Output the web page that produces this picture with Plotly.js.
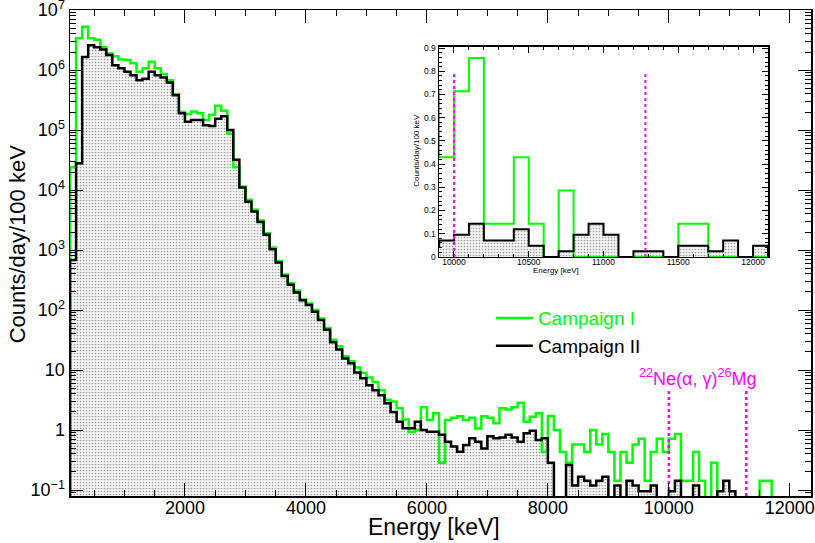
<!DOCTYPE html>
<html><head><meta charset="utf-8">
<script src="https://cdn.plot.ly/plotly-3.0.1.min.js"></script>
<style>html,body{margin:0;padding:0;background:#fff}</style>
</head><body><div id="chart" style="width:815px;height:543px"></div>
<script>
// Bin lower edges (keV), 100 keV bins
const binLow = [
  100,200,300,400,500,600,700,800,900,
  1000,1100,1200,1300,1400,1500,1600,1700,1800,1900,
  2000,2100,2200,2300,2400,2500,2600,2700,2800,2900,
  3000,3100,3200,3300,3400,3500,3600,3700,3800,3900,
  4000,4100,4200,4300,4400,4500,4600,4700,4800,4900,
  5000,5100,5200,5300,5400,5500,5600,5700,5800,5900,
  6000,6100,6200,6300,6400,6500,6600,6700,6800,6900,
  7000,7100,7200,7300,7400,7500,7600,7700,7800,7900,
  8000,8100,8200,8300,8400,8500,8600,8700,8800,8900,
  9000,9100,9200,9300,9400,9500,9600,9700,9800,9900,
  10000,10100,10200,10300,10400,10500,10600,10700,10800,10900,
  11000,11100,11200,11300,11400,11500,11600,11700,11800,11900,
  12000,12100,12200,12300
];
const binWidth = 100;

// Campaign I (counts/day/100 keV)
const campaignI = [
  2.4e4,3.4e6,5.3e6,3.4e6,3.2e6,2.4e6,1.9e6,1.7e6,1.5e6,
  1.47e6,1.3e6,9.4e5,1.07e6,1.38e6,1.07e6,8.6e5,6.8e5,4.0e5,2.0e5,
  1.85e5,2.05e5,1.9e5,1.47e5,1.8e5,2.55e5,2.1e5,8.7e4,2.4e4,1.15e4,
  6900,4700,3100,1900,1100,660,390,280,210,150,
  128,100,72,50,32,25,17,14,11,9.0,
  7.5,6.3,4.6,3.2,3.0,2.3,1.5,0.93,1.0,2.4,
  1.47,1.9,0.286,1.47,1.6,1.7,1.47,1.6,1.06,1.7,
  1.6,1.3,2.3,2.2,2.4,2.86,1.38,1.67,1.9,0.43,
  1.71,1.0,0.429,0.286,0.571,0.571,0.429,1.0,0.571,0.857,
  0.429,0.143,0.429,0.286,0.571,0.714,0.143,0.429,0.714,0.429,
  0.714,0.857,0.143,0.143,0.429,0.143,0,0.286,0,0,
  0,0,0,0,0,0.143,0.143,0,0,0,
  0,0,0,0
];

// Campaign II (counts/day/100 keV)
const campaignII = [
  680,2.8e4,1.66e6,2.6e6,2.4e6,2.2e6,1.78e6,1.2e6,1.07e6,
  9.4e5,8.2e5,6.8e5,7.2e5,9.4e5,8.2e5,7.5e5,6.2e5,3.8e5,1.9e5,
  1.38e5,1.47e5,1.47e5,1.2e5,1.17e5,1.55e5,1.7e5,1.0e5,3.2e4,1.1e4,
  6400,4400,2950,1800,1030,620,370,265,196,145,
  121,94,68,47,29,22,15.6,13,9.1,7.3,
  5.6,4.6,3.8,2.8,2.0,1.38,1.07,1.07,1.38,1.0,
  0.94,0.94,0.83,0.64,0.53,0.435,0.56,0.73,0.64,0.49,
  0.79,0.73,0.75,0.83,0.75,0.64,0.88,0.97,0.68,0.73,
  0.286,0,0,0.262,0.119,0.167,0.143,0.119,0.143,0.167,
  0,0.119,0,0.143,0.119,0.095,0.095,0.119,0.048,0.071,
  0.095,0.143,0.071,0.071,0.119,0.048,0,0.024,0.095,0.143,
  0.095,0,0.024,0.024,0,0.048,0.048,0.024,0.071,0,
  0.048,0,0,0
];

// 22Ne(alpha,gamma)26Mg region of interest (keV)
const roiLines = [10000, 11280];

const xTickVals = [2000,4000,6000,8000,10000,12000];
const xTickText = ['2000','4000','6000','8000','10000','12000'];
const insetTickVals = [10000,10500,11000,11500,12000];
const insetTickText = ['10000','10500','11000','11500','12000'];
const yTickVals = [0.1,1,10,100,1e3,1e4,1e5,1e6,1e7];
const yTickText = ['10<sup>\u22121</sup>','1','10','10<sup>2</sup>','10<sup>3</sup>','10<sup>4</sup>','10<sup>5</sup>','10<sup>6</sup>','10<sup>7</sup>'];

function stepXY(lows, vals, floor) {
  const xs = [lows[0]], ys = [floor];
  for (let i = 0; i < lows.length; i++) { xs.push(lows[i]); ys.push(vals[i] > 0 ? vals[i] : floor); }
  const n = lows.length - 1;
  xs.push(lows[n] + binWidth); ys.push(vals[n] > 0 ? vals[n] : floor);
  return {xs, ys};
}
const centers = binLow.map(v => v + binWidth / 2);
const green = '#00ff00', magenta = '#ff00ff';
const pattern = {shape: '.', fgcolor: '#9a9a9a', bgcolor: '#f7f7f7', size: 3, solidity: 0.25};

const s1 = stepXY(binLow, campaignI, 1e-3);
const s2 = stepXY(binLow, campaignII, 1e-3);
const t1 = stepXY(binLow, campaignI, 0);
const t2 = stepXY(binLow, campaignII, 0);

const minorLog = [];
for (let d = -2; d <= 6; d++) for (let k = 2; k <= 9; k++) minorLog.push(k * Math.pow(10, d));

const traces = [
  {type: 'bar', x: centers, y: campaignII.map(v => v > 0 ? v : null), width: binWidth,
   marker: {color: '#ffffff', pattern: pattern, line: {width: 0}}, showlegend: false, hoverinfo: 'skip', xaxis: 'x', yaxis: 'y'},
  {type: 'scatter', mode: 'lines', x: s1.xs, y: s1.ys, line: {shape: 'hv', color: green, width: 2.5},
   name: '<span style="color:#00ff00">Campaign I</span>', xaxis: 'x', yaxis: 'y'},
  {type: 'scatter', mode: 'lines', x: s2.xs, y: s2.ys, line: {shape: 'hv', color: '#000', width: 2.5},
   name: 'Campaign II', xaxis: 'x', yaxis: 'y'},
  {type: 'scatter', mode: 'lines', x: [roiLines[0], roiLines[0]], y: [1e-3, 4.5], line: {color: magenta, width: 2.5, dash: 'dot'}, showlegend: false, xaxis: 'x', yaxis: 'y'},
  {type: 'scatter', mode: 'lines', x: [roiLines[1], roiLines[1]], y: [1e-3, 4.5], line: {color: magenta, width: 2.5, dash: 'dot'}, showlegend: false, xaxis: 'x', yaxis: 'y'},
  // inset
  {type: 'bar', x: centers, y: campaignII, width: binWidth,
   marker: {color: '#ffffff', pattern: pattern, line: {width: 0}}, showlegend: false, hoverinfo: 'skip', xaxis: 'x2', yaxis: 'y2'},
  {type: 'scatter', mode: 'lines', x: t1.xs, y: t1.ys, line: {shape: 'hv', color: green, width: 2}, showlegend: false, xaxis: 'x2', yaxis: 'y2'},
  {type: 'scatter', mode: 'lines', x: t2.xs, y: t2.ys, line: {shape: 'hv', color: '#000', width: 2}, showlegend: false, xaxis: 'x2', yaxis: 'y2'},
  {type: 'scatter', mode: 'lines', x: [roiLines[0], roiLines[0]], y: [0, 0.8], line: {color: magenta, width: 2, dash: 'dot'}, showlegend: false, xaxis: 'x2', yaxis: 'y2'},
  {type: 'scatter', mode: 'lines', x: [roiLines[1], roiLines[1]], y: [0, 0.8], line: {color: magenta, width: 2, dash: 'dot'}, showlegend: false, xaxis: 'x2', yaxis: 'y2'}
];

const axCommon = {showline: true, linecolor: '#000', linewidth: 1.5, mirror: 'allticks', showgrid: false, zeroline: false,
  ticks: 'inside', tickcolor: '#000', tickwidth: 1, exponentformat: 'none', separatethousands: false,
  ticklabeloverflow: 'allow', automargin: false};

const layout = {
  width: 815, height: 543,
  margin: {l: 70, r: 4, t: 10, b: 47},
  paper_bgcolor: '#ffffff', plot_bgcolor: '#ffffff',
  font: {family: 'Liberation Sans, Arial, sans-serif', color: '#000'},
  barmode: 'overlay',
  hovermode: false,
  showlegend: true,
  legend: {x: 0.568, xanchor: 'left', y: 0.405, yanchor: 'top', bgcolor: 'rgba(0,0,0,0)', font: {size: 19}, itemwidth: 37, tracegroupgap: 0},
  xaxis: Object.assign({}, axCommon, {range: [100, 12350], tickmode: 'array', tickvals: xTickVals, ticktext: xTickText, ticklen: 13,
    tickfont: {size: 18}, ticklabelstandoff: -5,
    minor: {tick0: 0, dtick: 500, ticks: 'inside', ticklen: 6, tickcolor: '#000'}}),
  yaxis: Object.assign({}, axCommon, {type: 'log', range: [-1.1, 7.002], tickmode: 'array', tickvals: yTickVals, ticktext: yTickText, ticklen: 13,
    tickfont: {size: 18},
    minor: {tickmode: 'array', tickvals: minorLog, ticks: 'inside', ticklen: 6, tickcolor: '#000'}}),
  xaxis2: Object.assign({}, axCommon, {domain: [0.498, 0.942], anchor: 'y2', range: [9900, 12100], tickmode: 'array', tickvals: insetTickVals, ticktext: insetTickText, ticklen: 6,
    linewidth: 1.5, tickfont: {size: 8.5}, ticklabelstandoff: -4, minor: {tick0: 0, dtick: 100, ticks: 'inside', ticklen: 3, tickcolor: '#000'}}),
  yaxis2: Object.assign({}, axCommon, {domain: [0.492, 0.924], anchor: 'x2', range: [0, 0.905], tick0: 0, dtick: 0.1, ticklen: 6,
    linewidth: 1.5, tickfont: {size: 8.5}, minor: {tick0: 0, dtick: 0.02, ticks: 'inside', ticklen: 3, tickcolor: '#000'}}),
  annotations: [
    {xref: 'paper', yref: 'paper', x: 0.491, y: -0.0638, text: 'Energy [keV]', showarrow: false, font: {size: 23}, xanchor: 'center', yanchor: 'middle'},
    {xref: 'paper', yref: 'paper', x: -0.0715, y: 0.518, text: 'Counts/day/100 keV', showarrow: false, font: {size: 22}, textangle: -90, xanchor: 'center', yanchor: 'middle'},
    {xref: 'paper', yref: 'paper', x: 0.8475, y: 0.243, text: '<sup>22</sup>Ne(\u03b1, \u03b3)<sup>26</sup>Mg', showarrow: false,
     font: {size: 18, color: magenta}, xanchor: 'center', yanchor: 'middle'},
    {xref: 'paper', yref: 'paper', x: 0.656, y: 0.465, text: 'Energy [keV]', showarrow: false, font: {size: 8}, xanchor: 'center', yanchor: 'middle'},
    {xref: 'paper', yref: 'paper', x: 0.468, y: 0.712, text: 'Counts/day/100 keV', showarrow: false, font: {size: 8}, textangle: -90, xanchor: 'center', yanchor: 'middle'}
  ]
};

Plotly.newPlot('chart', traces, layout, {displayModeBar: false, staticPlot: true});
</script></body></html>
